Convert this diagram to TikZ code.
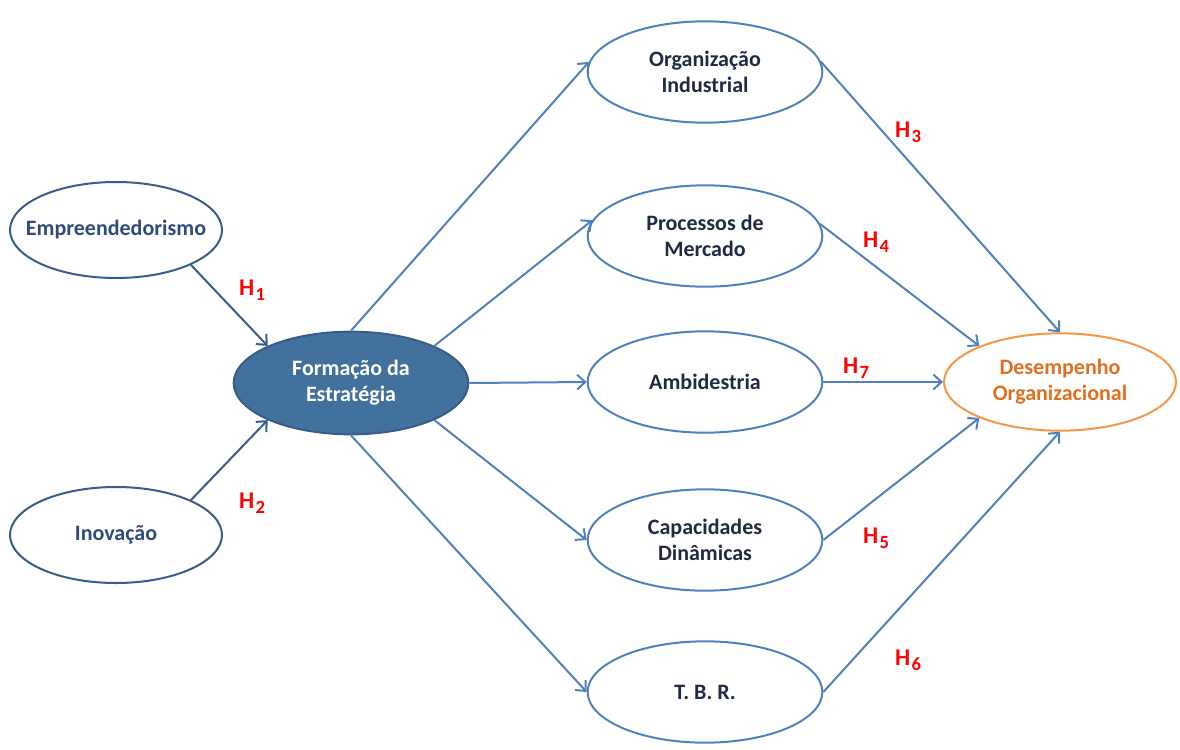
\documentclass[tikz,border=0pt]{standalone}
\usepackage{fontspec}
\setmainfont{Carlito}
\usetikzlibrary{shapes.geometric,arrows.meta}
\definecolor{lineblue}{HTML}{4F81BD}
\definecolor{darkline}{HTML}{385D8A}
\definecolor{fillblue}{HTML}{41719C}
\definecolor{leftText}{HTML}{2F4B7C}
\definecolor{rightText}{HTML}{1F2A44}
\definecolor{orangeLine}{HTML}{F79646}
\definecolor{orangeText}{HTML}{E07020}
\definecolor{hred}{HTML}{FF0000}
\newcommand{\hsub}[1]{H\hspace{1pt}\raisebox{-0.45ex}{\fontsize{14}{14}\selectfont #1}}
\tikzset{
  base/.style={ellipse, inner xsep=-80pt, inner ysep=-40pt, line width=1.5pt, align=center,
    font=\fontsize{16.5}{19.5}\selectfont\bfseries},
  leftell/.style={base, draw=darkline, text=leftText, minimum width=159pt, minimum height=72pt},
  midell/.style={base, draw=darkline, fill=fillblue, text=white, minimum width=176pt, minimum height=77pt},
  rightell/.style={base, draw=lineblue, text=rightText, minimum width=176pt, minimum height=76pt},
  outell/.style={base, draw=orangeLine, text=orangeText, minimum width=174pt, minimum height=73pt},
  conn/.style={line width=1.5pt, draw=lineblue, -{Straight Barb[length=6pt,width=11pt,line width=1.5pt]}},
  connd/.style={conn, draw=darkline},
  hyp/.style={text=hred, font=\fontsize{18}{18}\selectfont\bfseries}
}
\begin{document}
\begin{tikzpicture}[x=0.75pt,y=-0.75pt]
\useasboundingbox (0,0) rectangle (1180,749);
\node[leftell] (e) at (116,230) {Empreendedorismo};
\node[leftell] (i) at (116,535) {Inovação};
\node[midell] (f) at (351,383) {Formação da\\Estratégia};
\node[rightell] (o) at (705,72) {Organização\\Industrial};
\node[rightell] (p) at (705,236) {Processos de\\Mercado};
\node[rightell] (a) at (705,382) {Ambidestria};
\node[rightell] (c) at (705,540) {Capacidades\\Dinâmicas};
\node[rightell] (t) at (705,692) {T. B. R.};
\node[outell] (d) at (1060,382) {Desempenho\\Organizacional};

\draw[connd] (e.-25) -- (f.156);
\draw[connd] (i.25) -- (f.204);
\draw[conn] (f.90) -- (o.175);
\draw[conn] (f.24) -- (p.172);
\draw[conn] (f.0) -- (a.180);
\draw[conn] (f.-24) -- (c.180);
\draw[conn] (f.270) -- (t.180);
\draw[conn] (o.5) -- (d.90);
\draw[conn] (p.6) -- (d.156);
\draw[conn] (a.0) -- (d.180);
\draw[conn] (c.0) -- (d.204);
\draw[conn] (t.0) -- (d.270);

\node[hyp] (h1) at (252,290) {\hsub{1}};
\node[hyp] (h2) at (252,503) {\hsub{2}};
\node[hyp] (h3) at (908,132) {\hsub{3}};
\node[hyp] (h4) at (876,242) {\hsub{4}};
\node[hyp] (h7) at (856,368) {\hsub{7}};
\node[hyp] (h5) at (876,538) {\hsub{5}};
\node[hyp] (h6) at (908,660) {\hsub{6}};
\end{tikzpicture}
\end{document}
